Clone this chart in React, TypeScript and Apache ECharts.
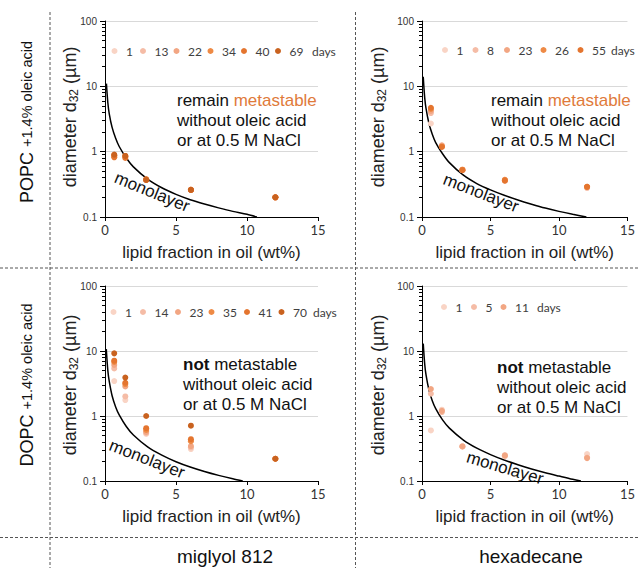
import React, { useEffect, useRef } from "react";
import * as echarts from "echarts";

// ---------- data ----------
// POPC + miglyol 812
const xPopcMig = [0.65, 1.43, 2.9, 6.05, 12.0];
const daysPopcMig = ["1", "13", "22", "34", "40", "69"];
const dPopcMig = [
  [0.85, 0.83, 0.37, 0.26, 0.2],
  [0.86, 0.84, 0.37, 0.26, 0.2],
  [0.87, 0.85, 0.37, 0.26, 0.2],
  [0.88, 0.86, 0.38, 0.26, 0.2],
  [0.82, 0.8, 0.37, 0.26, 0.2],
  [0.9, 0.86, 0.37, 0.26, 0.2],
];
const monoXPopcMig = [0.1, 0.2, 0.3, 0.5, 0.75, 1, 1.5, 2, 3, 4, 5, 6, 7, 8, 9, 10, 10.7];
const monoYPopcMig = [11, 5.6, 3.8, 2.35, 1.6, 1.2, 0.8, 0.585, 0.38, 0.28, 0.222, 0.184, 0.158, 0.138, 0.122, 0.11, 0.1];

// POPC + hexadecane
const xPopcHex = [0.65, 1.45, 2.95, 6.05, 12.05];
const daysPopcHex = ["1", "8", "23", "26", "55"];
const dPopcHex = [
  [2.7, 1.2, 0.52, 0.36, 0.28],
  [3.9, 1.22, 0.52, 0.36, 0.28],
  [4.2, 1.25, 0.53, 0.37, 0.29],
  [4.5, 1.2, 0.53, 0.37, 0.29],
  [4.7, 1.18, 0.52, 0.36, 0.29],
];
const monoXPopcHex = [0.09, 0.2, 0.3, 0.5, 0.75, 1, 1.5, 2, 3, 4, 5, 6, 7, 8, 9, 10, 11, 12];
const monoYPopcHex = [14, 6.6, 4.5, 2.75, 1.85, 1.38, 0.93, 0.68, 0.44, 0.325, 0.26, 0.215, 0.182, 0.157, 0.137, 0.122, 0.11, 0.1];

// DOPC + miglyol 812
const xDopcMig = [0.65, 1.43, 2.9, 6.05, 12.0];
const daysDopcMig = ["1", "14", "23", "35", "41", "70"];
const dDopcMig = [
  [3.45, 1.76, 0.53, 0.31, null],
  [5.4, 2.0, 0.55, 0.33, null],
  [6.1, 2.85, 0.57, 0.345, null],
  [6.8, 3.1, 0.61, 0.41, 0.22],
  [7.1, 3.25, 0.65, 0.44, 0.22],
  [9.2, 3.9, 1.0, 0.71, 0.22],
];
const monoXDopcMig = [0.09, 0.2, 0.3, 0.5, 0.75, 1, 1.5, 2, 3, 4, 5, 6, 7, 8, 9, 9.7];
const monoYDopcMig = [10.7, 5.0, 3.4, 2.05, 1.38, 1.04, 0.69, 0.51, 0.335, 0.25, 0.198, 0.164, 0.14, 0.122, 0.108, 0.1];

// DOPC + hexadecane
const xDopcHex = [0.65, 1.45, 2.95, 6.05, 12.05];
const daysDopcHex = ["1", "5", "11"];
const dDopcHex = [
  [0.6, 1.25, 0.34, 0.24, 0.26],
  [2.2, 1.15, 0.34, 0.25, 0.23],
  [2.6, 1.2, 0.34, 0.245, 0.225],
];
const monoXDopcHex = [0.09, 0.2, 0.3, 0.5, 0.75, 1, 1.5, 2, 3, 4, 5, 6, 7, 8, 9, 10, 11, 11.6];
const monoYDopcHex = [13, 6.2, 4.2, 2.55, 1.72, 1.3, 0.87, 0.65, 0.43, 0.32, 0.255, 0.21, 0.178, 0.153, 0.134, 0.119, 0.106, 0.1];

const minorTickValues = [0.2, 0.3, 0.4, 0.5, 0.6, 0.7, 0.8, 0.9, 2, 3, 4, 5, 6, 7, 8, 9, 20, 30, 40, 50, 60, 70, 80, 90];

// ---------- styles / layout ----------
const shades = ["#F9D4C5", "#F5BCA6", "#F2A683", "#EE8A45", "#E4752F", "#C9621F"];
const FONT = "Liberation Sans";
const LEG_IW = 13;

const panels = [
  { key: "a", x: xPopcMig, days: daysPopcMig, d: dPopcMig, mx: monoXPopcMig, my: monoYPopcMig, colors: shades, left: 105, top: 21, h: 196,
    legX: [118, 146.5, 180, 214, 247.5, 281.5], legY: 51, daysX: 312 },
  { key: "b", x: xPopcHex, days: daysPopcHex, d: dPopcHex, mx: monoXPopcHex, my: monoYPopcHex, colors: shades.slice(0, 5), left: 422, top: 21, h: 196,
    legX: [448.5, 479, 510.5, 547, 584], legY: 50, daysX: 611 },
  { key: "c", x: xDopcMig, days: daysDopcMig, d: dDopcMig, mx: monoXDopcMig, my: monoYDopcMig, colors: shades, left: 105, top: 286, h: 195,
    legX: [117, 146.5, 181.5, 215, 250.5, 285], legY: 312, daysX: 313 },
  { key: "d", x: xDopcHex, days: daysDopcHex, d: dDopcHex, mx: monoXDopcHex, my: monoYDopcHex, colors: shades.slice(0, 3), left: 422, top: 286, h: 195,
    legX: [447.5, 477.5, 507], legY: 307, daysX: 537 },
];

function buildOption() {
  const grid: any[] = [];
  const xAxis: any[] = [];
  const yAxis: any[] = [];
  const series: any[] = [];
  const legend: any[] = [];
  const daysTexts: any[] = [];

  panels.forEach((p, i) => {
    grid.push({ left: p.left, top: p.top, width: 213, height: p.h, containLabel: false });
    xAxis.push({
      type: "value",
      gridIndex: i,
      min: 0,
      max: 15,
      interval: 5,
      axisLine: { show: true, lineStyle: { color: "#000", width: 1 } },
      axisTick: { show: true, length: 4, lineStyle: { color: "#000" } },
      axisLabel: { fontFamily: "Lato", fontSize: 13, color: "#333", margin: 6 },
      splitLine: { show: false },
      name: "lipid fraction in oil (wt%)",
      nameLocation: "middle",
      nameGap: 27,
      nameTextStyle: { fontFamily: FONT, fontSize: 17, color: "#222" },
    });
    yAxis.push({
      type: "log",
      logBase: 10,
      gridIndex: i,
      min: 0.1,
      max: 100,
      position: "left",
      axisLine: { show: true, lineStyle: { color: "#000", width: 1 } },
      axisTick: { show: true, length: 5, lineStyle: { color: "#000" } },
      axisLabel: { fontFamily: FONT, fontSize: 10, color: "#333", margin: 8 },
      splitLine: { show: true, lineStyle: { color: "#D9D9D9", width: 1 } },
    });
    yAxis.push({
      type: "log",
      logBase: 10,
      gridIndex: i,
      min: 0.1,
      max: 100,
      position: "left",
      offset: 0,
      axisLine: { show: false },
      axisLabel: { show: false },
      splitLine: { show: false },
      axisTick: { show: true, length: 3, customValues: minorTickValues, lineStyle: { color: "#000" } },
    });

    series.push({
      type: "line",
      name: p.key + "|mono",
      xAxisIndex: i,
      yAxisIndex: i * 2,
      data: p.mx.map((xv, k) => [xv, p.my[k]]),
      smooth: 0.3,
      showSymbol: false,
      symbol: "none",
      lineStyle: { color: "#000", width: 1.5 },
      silent: true,
      z: 1,
    });

    p.days.forEach((day, j) => {
      const name = p.key + "|" + day;
      series.push({
        type: "scatter",
        name,
        xAxisIndex: i,
        yAxisIndex: i * 2,
        data: p.x
          .map((xv, k) => [xv, p.d[j][k]])
          .filter((pt) => pt[1] != null),
        symbolSize: 6,
        itemStyle: { color: p.colors[j], opacity: 1 },
        z: 2 + j,
      });
      legend.push({
        data: [name],
        left: p.legX[j] - LEG_IW / 2,
        top: p.legY - 6,
        padding: 0,
        orient: "horizontal",
        icon: "circle",
        itemWidth: LEG_IW,
        itemHeight: 6,
        selectedMode: false,
        textStyle: { fontFamily: "Lato", fontSize: 12, color: "#404040" },
        formatter: (n: string) => n.split("|")[1],
      });
    });

    daysTexts.push({
      type: "text",
      x: p.daysX,
      y: p.legY,
      style: { text: "days", fontFamily: "Lato", fontSize: 12, fill: "#404040", align: "left", verticalAlign: "middle" },
    });
  });

  const dash = { stroke: "#555", lineWidth: 1, lineDash: [3, 2] };
  const annStyle = (text: string, x: number, y: number) => ({
    type: "text",
    x,
    y,
    style: {
      text,
      fontFamily: FONT,
      fontSize: 17,
      lineHeight: 20,
      fill: "#111",
      align: "left",
      verticalAlign: "top",
      rich: {
        o: { fontFamily: FONT, fontSize: 17, fill: "#E07A3A", lineHeight: 20 },
        b: { fontFamily: FONT, fontSize: 17, fontWeight: "bold", fill: "#111", lineHeight: 20 },
      },
    },
  });
  const mono = (x: number, y: number, rot: number) => ({
    type: "text",
    x,
    y,
    rotation: rot,
    style: { text: "monolayer", fontFamily: FONT, fontSize: 17, fill: "#111", align: "center", verticalAlign: "middle" },
  });
  const yTitle = (x: number, y: number) => ({
    type: "text",
    x,
    y,
    rotation: Math.PI / 2,
    style: {
      text: "diameter d{s|32} (µm)",
      fontFamily: FONT,
      fontSize: 18,
      fill: "#222",
      align: "center",
      verticalAlign: "middle",
      rich: { s: { fontFamily: FONT, fontSize: 12, fill: "#222", padding: [8, 0, 0, 0] } },
    },
  });
  const rowLabel = (name: string, x: number, y: number) => ({
    type: "text",
    x,
    y,
    rotation: Math.PI / 2,
    style: {
      text: name + " {s|+1.4% oleic acid}",
      fontFamily: FONT,
      fontSize: 18,
      fill: "#111",
      align: "center",
      verticalAlign: "middle",
      rich: { s: { fontFamily: FONT, fontSize: 14.5, fill: "#111" } },
    },
  });
  const colLabel = (text: string, x: number) => ({
    type: "text",
    x,
    y: 556,
    style: { text, fontFamily: FONT, fontSize: 19, fill: "#111", align: "center", verticalAlign: "middle" },
  });

  const graphic = [
    { type: "line", shape: { x1: 50, y1: 12, x2: 50, y2: 568 }, style: dash, silent: true },
    { type: "line", shape: { x1: 355.5, y1: 12, x2: 355.5, y2: 568 }, style: dash, silent: true },
    { type: "line", shape: { x1: 0, y1: 268, x2: 638, y2: 268 }, style: dash, silent: true },
    { type: "line", shape: { x1: 0, y1: 537.5, x2: 638, y2: 537.5 }, style: dash, silent: true },
    ...daysTexts,
    annStyle("remain {o|metastable}\nwithout oleic acid\nor at 0.5 M NaCl", 177, 90),
    annStyle("remain {o|metastable}\nwithout oleic acid\nor at 0.5 M NaCl", 491, 90),
    annStyle("{b|not} metastable\nwithout oleic acid\nor at 0.5 M NaCl", 183, 354),
    annStyle("{b|not} metastable\nwithout oleic acid\nor at 0.5 M NaCl", 497, 357),
    mono(152, 192, -0.39),
    mono(481, 193, -0.37),
    mono(147, 459, -0.37),
    mono(505, 468, -0.29),
    yTitle(70, 117),
    yTitle(378, 117),
    yTitle(70, 385),
    yTitle(378, 385),
    rowLabel("POPC", 27, 122),
    rowLabel("DOPC", 27, 385),
    colLabel("miglyol 812", 225),
    colLabel("hexadecane", 531),
  ];

  return {
    animation: false,
    backgroundColor: "#fff",
    textStyle: { fontFamily: FONT },
    grid,
    xAxis,
    yAxis,
    legend,
    series,
    graphic,
  };
}

export default function App() {
  const ref = useRef<HTMLDivElement>(null);
  useEffect(() => {
    if (!ref.current) return;
    const chart = echarts.init(ref.current, null, { renderer: "svg" });
    chart.setOption(buildOption() as any);
    return () => chart.dispose();
  }, []);
  return (
    <div
      ref={ref}
      style={{ position: "fixed", left: 0, top: 0, width: 638, height: 568, background: "#fff" }}
    />
  );
}
